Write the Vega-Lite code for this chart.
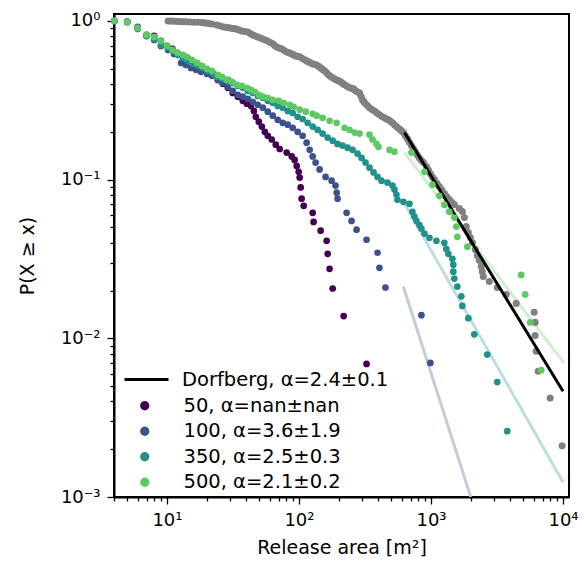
{
 "$schema": "https://vega.github.io/schema/vega-lite/v6.json",
 "width": 455, "height": 483,
 "autosize": {"type": "none"},
 "padding": {"left": 114, "top": 14, "right": 16, "bottom": 74},
 "background": "white",
 "config": {
  "font": "DejaVu Sans",
  "view": {"stroke": "black", "strokeWidth": 2},
  "axis": {"domainColor": "black", "domainWidth": 2, "tickColor": "black", "labelColor": "black", "titleColor": "black", "grid": false, "labelFontSize": 18, "titleFontSize": 19, "titleFontWeight": "normal", "labelOverlap": false, "labelFlush": false, "tickWidth": 1.3},
  "legend": {"labelFontSize": 19.5, "labelColor": "black", "padding": 0, "labelLimit": 400}
 },
 "datasets": {
  "gray": [
   {"x":10.2,"y":1.0},{"x":10.8,"y":0.997},{"x":11.5,"y":0.995},{"x":12.2,"y":0.993},{"x":13.0,"y":0.99},{"x":13.9,"y":0.988},{"x":14.9,"y":0.985},{"x":16.0,"y":0.982},{"x":17.2,"y":0.98},{"x":18.3,"y":0.976},{"x":19.4,"y":0.972},{"x":20.6,"y":0.965},{"x":21.9,"y":0.957},{"x":23.9,"y":0.944},{"x":25.4,"y":0.93},{"x":27.0,"y":0.917},{"x":28.4,"y":0.91},{"x":29.9,"y":0.904},{"x":31.5,"y":0.897},{"x":33.2,"y":0.891},{"x":35.0,"y":0.878},{"x":36.9,"y":0.865},{"x":38.8,"y":0.858},{"x":40.9,"y":0.852},{"x":42.8,"y":0.834},{"x":44.7,"y":0.816},{"x":46.7,"y":0.804},{"x":48.7,"y":0.793},{"x":50.9,"y":0.781},{"x":53.2,"y":0.77},{"x":55.5,"y":0.759},{"x":58.0,"y":0.748},{"x":60.6,"y":0.732},{"x":63.3,"y":0.717},{"x":65.5,"y":0.701},{"x":67.8,"y":0.686},{"x":70.8,"y":0.676},{"x":74.0,"y":0.667},{"x":77.3,"y":0.652},{"x":80.7,"y":0.638},{"x":84.3,"y":0.629},{"x":88.1,"y":0.62},{"x":91.2,"y":0.611},{"x":94.4,"y":0.602},{"x":97.7,"y":0.598},{"x":101.2,"y":0.594},{"x":105.7,"y":0.581},{"x":110.4,"y":0.569},{"x":114.3,"y":0.56},{"x":118.4,"y":0.552},{"x":122.6,"y":0.544},{"x":127.0,"y":0.536},{"x":131.5,"y":0.532},{"x":136.1,"y":0.528},{"x":140.9,"y":0.517},{"x":145.9,"y":0.506},{"x":151,"y":0.495},{"x":156.4,"y":0.485},{"x":162,"y":0.471},{"x":167.7,"y":0.457},{"x":173.6,"y":0.447},{"x":179.8,"y":0.438},{"x":186.2,"y":0.431},{"x":192.8,"y":0.425},{"x":199.6,"y":0.419},{"x":206.7,"y":0.413},{"x":214,"y":0.404},{"x":221.5,"y":0.396},{"x":231.3,"y":0.387},{"x":241.6,"y":0.379},{"x":250.2,"y":0.376},{"x":259.1,"y":0.373},{"x":266,"y":0.366},{"x":273.0,"y":0.359},{"x":287.6,"y":0.352},{"x":295.2,"y":0.335},{"x":303.0,"y":0.318},{"x":311,"y":0.309},{"x":319.3,"y":0.301},{"x":330.6,"y":0.292},{"x":342.2,"y":0.284},{"x":357.5,"y":0.277},{"x":373.4,"y":0.271},{"x":390,"y":0.263},{"x":407.4,"y":0.256},{"x":425.6,"y":0.25},{"x":444.5,"y":0.245},{"x":460,"y":0.241},{"x":476.4,"y":0.238},{"x":493,"y":0.233},{"x":510.8,"y":0.228},{"x":529,"y":0.222},{"x":547.5,"y":0.216},{"x":567,"y":0.211},{"x":587.0,"y":0.206},{"x":602,"y":0.202},{"x":618.4,"y":0.198},{"x":640,"y":0.189},{"x":663,"y":0.181},{"x":687,"y":0.172},{"x":711,"y":0.164},{"x":736,"y":0.157},{"x":762,"y":0.15},{"x":789,"y":0.143},{"x":817,"y":0.137},{"x":846,"y":0.132},{"x":876,"y":0.128},{"x":923,"y":0.121},{"x":956,"y":0.115},{"x":990,"y":0.109},{"x":1025,"y":0.104},{"x":1061,"y":0.1},{"x":1108,"y":0.095},{"x":1157,"y":0.0904},{"x":1209,"y":0.086},{"x":1263,"y":0.0817},{"x":1319,"y":0.078},{"x":1378,"y":0.0748},{"x":1439,"y":0.072},{"x":1503,"y":0.0696},{"x":1639,"y":0.0657},{"x":1728,"y":0.0629},{"x":1789,"y":0.0577},{"x":1851,"y":0.0506},{"x":1917,"y":0.0464},{"x":1985,"y":0.0432},{"x":2056,"y":0.0402},{"x":2166,"y":0.0363},{"x":2243,"y":0.0333},{"x":2322,"y":0.031},{"x":2404,"y":0.0284},{"x":2446,"y":0.0264},{"x":2489,"y":0.0245},{"x":2763,"y":0.0228},{"x":3176,"y":0.0209},{"x":3715,"y":0.0189},{"x":4422,"y":0.0166},{"x":6047,"y":0.0146},{"x":6153,"y":0.0126},{"x":6153,"y":0.0104},{"x":6262,"y":0.0083},{"x":6484,"y":0.0062},{"x":7990,"y":0.0042},{"x":9845,"y":0.0021}
  ],
  "fits": [
   {"f":"Dorfberg","x":630,"y":0.198},{"f":"Dorfberg","x":10000,"y":0.00464},
   {"f":"100","x":617,"y":0.0212},{"f":"100","x":2000,"y":0.001},
   {"f":"350","x":617,"y":0.0727},{"f":"350","x":10000,"y":0.00124},
   {"f":"500","x":630,"y":0.148},{"f":"500","x":10190,"y":0.00697}
  ],
  "pts": [
   {"s":"50","x":4,"y":1.0},{"s":"50","x":5,"y":0.986},{"s":"50","x":6,"y":0.904},{"s":"50","x":7,"y":0.816},{"s":"50","x":8,"y":0.805},{"s":"50","x":9,"y":0.748},{"s":"50","x":10,"y":0.696},{"s":"50","x":11,"y":0.667},{"s":"50","x":12,"y":0.629},{"s":"50","x":13.2,"y":0.602},{"s":"50","x":14.4,"y":0.577},{"s":"50","x":15.7,"y":0.552},{"s":"50","x":17.2,"y":0.528},{"s":"50","x":18.7,"y":0.506},{"s":"50","x":20.4,"y":0.485},{"s":"50","x":22.3,"y":0.464},{"s":"50","x":24.3,"y":0.425},{"s":"50","x":26.5,"y":0.402},{"s":"50","x":28.9,"y":0.379},{"s":"50","x":31.5,"y":0.352},{"s":"50","x":34.4,"y":0.333},{"s":"50","x":37.5,"y":0.314},{"s":"50","x":40.3,"y":0.301},{"s":"50","x":43.2,"y":0.292},{"s":"50","x":45.5,"y":0.271},{"s":"50","x":47.1,"y":0.249},{"s":"50","x":49.6,"y":0.232},{"s":"50","x":52.3,"y":0.216},{"s":"50","x":55.1,"y":0.2},{"s":"50","x":58.0,"y":0.189},{"s":"50","x":62.2,"y":0.179},{"s":"50","x":66.7,"y":0.166},{"s":"50","x":71.5,"y":0.156},{"s":"50","x":80.7,"y":0.148},{"s":"50","x":88.1,"y":0.14},{"s":"50","x":92.7,"y":0.133},{"s":"50","x":96.1,"y":0.122},{"s":"50","x":99.5,"y":0.112},{"s":"50","x":101.2,"y":0.103},{"s":"50","x":103,"y":0.0893},{"s":"50","x":104.7,"y":0.0758},{"s":"50","x":108.6,"y":0.0684},{"s":"50","x":127,"y":0.0618},{"s":"50","x":129,"y":0.0541},{"s":"50","x":145.9,"y":0.0477},{"s":"50","x":162,"y":0.0412},{"s":"50","x":165,"y":0.0341},{"s":"50","x":170.6,"y":0.0274},{"s":"50","x":180,"y":0.0206},{"s":"50","x":218,"y":0.0138},{"s":"50","x":325,"y":0.0069},
   {"s":"100","x":4,"y":1.0},{"s":"100","x":5,"y":0.986},{"s":"100","x":6,"y":0.917},{"s":"100","x":7,"y":0.805},{"s":"100","x":8,"y":0.759},{"s":"100","x":9,"y":0.696},{"s":"100","x":10.2,"y":0.657},{"s":"100","x":11.3,"y":0.62},{"s":"100","x":12.8,"y":0.544},{"s":"100","x":13.9,"y":0.528},{"s":"100","x":15.2,"y":0.506},{"s":"100","x":16.6,"y":0.492},{"s":"100","x":18.1,"y":0.478},{"s":"100","x":20.1,"y":0.464},{"s":"100","x":21.9,"y":0.451},{"s":"100","x":24.3,"y":0.425},{"s":"100","x":26.5,"y":0.407},{"s":"100","x":28.9,"y":0.385},{"s":"100","x":31.5,"y":0.363},{"s":"100","x":34.4,"y":0.342},{"s":"100","x":37.5,"y":0.333},{"s":"100","x":40.9,"y":0.323},{"s":"100","x":44.7,"y":0.309},{"s":"100","x":48.7,"y":0.296},{"s":"100","x":53.2,"y":0.284},{"s":"100","x":58.0,"y":0.268},{"s":"100","x":63.3,"y":0.253},{"s":"100","x":69.0,"y":0.238},{"s":"100","x":75.3,"y":0.228},{"s":"100","x":82.2,"y":0.222},{"s":"100","x":89.6,"y":0.212},{"s":"100","x":97.7,"y":0.2},{"s":"100","x":106.6,"y":0.189},{"s":"100","x":114.3,"y":0.171},{"s":"100","x":120.5,"y":0.154},{"s":"100","x":127,"y":0.14},{"s":"100","x":133.6,"y":0.128},{"s":"100","x":143.3,"y":0.116},{"s":"100","x":159,"y":0.104},{"s":"100","x":176.6,"y":0.0985},{"s":"100","x":189.2,"y":0.0918},{"s":"100","x":193,"y":0.0828},{"s":"100","x":196,"y":0.0758},{"s":"100","x":229.5,"y":0.0618},{"s":"100","x":250,"y":0.0549},{"s":"100","x":273,"y":0.0484},{"s":"100","x":325,"y":0.0418},{"s":"100","x":393.5,"y":0.0346},{"s":"100","x":407,"y":0.0278},{"s":"100","x":452,"y":0.0209},{"s":"100","x":846,"y":0.014},{"s":"100","x":989,"y":0.007},
   {"s":"350","x":4,"y":1.0},{"s":"350","x":5,"y":0.99},{"s":"350","x":6,"y":0.89},{"s":"350","x":7,"y":0.805},{"s":"350","x":8,"y":0.77},{"s":"350","x":9,"y":0.706},{"s":"350","x":10.2,"y":0.676},{"s":"350","x":11.1,"y":0.647},{"s":"350","x":12.1,"y":0.611},{"s":"350","x":13.2,"y":0.585},{"s":"350","x":14.4,"y":0.56},{"s":"350","x":15.7,"y":0.537},{"s":"350","x":17.2,"y":0.521},{"s":"350","x":18.7,"y":0.506},{"s":"350","x":20.4,"y":0.485},{"s":"350","x":22.3,"y":0.464},{"s":"350","x":24.3,"y":0.444},{"s":"350","x":26.5,"y":0.432},{"s":"350","x":28.9,"y":0.425},{"s":"350","x":31.5,"y":0.407},{"s":"350","x":34.4,"y":0.39},{"s":"350","x":37.5,"y":0.379},{"s":"350","x":40.9,"y":0.362},{"s":"350","x":44.7,"y":0.352},{"s":"350","x":48.7,"y":0.337},{"s":"350","x":53.2,"y":0.328},{"s":"350","x":58.0,"y":0.314},{"s":"350","x":63.3,"y":0.305},{"s":"350","x":69.0,"y":0.291},{"s":"350","x":75.3,"y":0.284},{"s":"350","x":82.2,"y":0.271},{"s":"350","x":89.6,"y":0.263},{"s":"350","x":97.7,"y":0.249},{"s":"350","x":106.6,"y":0.241},{"s":"350","x":116.3,"y":0.228},{"s":"350","x":127,"y":0.216},{"s":"350","x":138.5,"y":0.206},{"s":"350","x":151,"y":0.195},{"s":"350","x":164.8,"y":0.184},{"s":"350","x":180,"y":0.176},{"s":"350","x":196,"y":0.168},{"s":"350","x":214,"y":0.164},{"s":"350","x":233.4,"y":0.159},{"s":"350","x":254.6,"y":0.154},{"s":"350","x":277.7,"y":0.146},{"s":"350","x":298,"y":0.137},{"s":"350","x":319.3,"y":0.128},{"s":"350","x":342.2,"y":0.119},{"s":"350","x":367.2,"y":0.111},{"s":"350","x":393.5,"y":0.104},{"s":"350","x":421.7,"y":0.0985},{"s":"350","x":468,"y":0.0958},{"s":"350","x":510.8,"y":0.0918},{"s":"350","x":528.6,"y":0.0866},{"s":"350","x":547,"y":0.0805},{"s":"350","x":557,"y":0.0747},{"s":"350","x":618.4,"y":0.0725},{"s":"350","x":687,"y":0.0704},{"s":"350","x":723,"y":0.0627},{"s":"350","x":749,"y":0.0585},{"s":"350","x":776,"y":0.0549},{"s":"350","x":817,"y":0.0517},{"s":"350","x":846,"y":0.0492},{"s":"350","x":892,"y":0.0457},{"s":"350","x":973,"y":0.043},{"s":"350","x":1099,"y":0.0412},{"s":"350","x":1262,"y":0.04},{"s":"350","x":1306,"y":0.0366},{"s":"350","x":1353,"y":0.0341},{"s":"350","x":1451,"y":0.0317},{"s":"350","x":1476,"y":0.0291},{"s":"350","x":1476,"y":0.0263},{"s":"350","x":1502,"y":0.0238},{"s":"350","x":1583,"y":0.0212},{"s":"350","x":1697,"y":0.0184},{"s":"350","x":1727,"y":0.016},{"s":"350","x":1918,"y":0.0134},{"s":"350","x":2129,"y":0.0106},{"s":"350","x":2667,"y":0.0079},{"s":"350","x":3176,"y":0.0053},{"s":"350","x":3779,"y":0.0026},
   {"s":"500","x":4,"y":1.0},{"s":"500","x":5,"y":0.986},{"s":"500","x":6,"y":0.904},{"s":"500","x":7,"y":0.816},{"s":"500","x":8,"y":0.793},{"s":"500","x":9,"y":0.748},{"s":"500","x":10,"y":0.696},{"s":"500","x":11,"y":0.657},{"s":"500","x":12,"y":0.629},{"s":"500","x":13.2,"y":0.611},{"s":"500","x":14.2,"y":0.594},{"s":"500","x":15.5,"y":0.569},{"s":"500","x":16.9,"y":0.544},{"s":"500","x":18.4,"y":0.521},{"s":"500","x":20.1,"y":0.499},{"s":"500","x":21.9,"y":0.485},{"s":"500","x":24.3,"y":0.457},{"s":"500","x":26.1,"y":0.444},{"s":"500","x":28.4,"y":0.425},{"s":"500","x":31.0,"y":0.413},{"s":"500","x":33.8,"y":0.396},{"s":"500","x":36.9,"y":0.39},{"s":"500","x":40.3,"y":0.379},{"s":"500","x":43.2,"y":0.368},{"s":"500","x":46.2,"y":0.358},{"s":"500","x":49.6,"y":0.342},{"s":"500","x":53.2,"y":0.333},{"s":"500","x":58.0,"y":0.328},{"s":"500","x":63.3,"y":0.318},{"s":"500","x":70.3,"y":0.314},{"s":"500","x":76.6,"y":0.305},{"s":"500","x":85.1,"y":0.296},{"s":"500","x":91.2,"y":0.288},{"s":"500","x":101.2,"y":0.276},{"s":"500","x":112.4,"y":0.268},{"s":"500","x":127,"y":0.26},{"s":"500","x":136.1,"y":0.253},{"s":"500","x":151,"y":0.245},{"s":"500","x":170.6,"y":0.235},{"s":"500","x":192.8,"y":0.228},{"s":"500","x":221.5,"y":0.212},{"s":"500","x":241.6,"y":0.206},{"s":"500","x":263.6,"y":0.198},{"s":"500","x":287.6,"y":0.195},{"s":"500","x":342.2,"y":0.192},{"s":"500","x":360.6,"y":0.179},{"s":"500","x":386.4,"y":0.168},{"s":"500","x":400,"y":0.161},{"s":"500","x":485,"y":0.154},{"s":"500","x":528.6,"y":0.15},{"s":"500","x":711,"y":0.148},{"s":"500","x":892,"y":0.112},{"s":"500","x":1026,"y":0.093},{"s":"500","x":1157,"y":0.079},{"s":"500","x":1262,"y":0.0694},{"s":"500","x":1377,"y":0.0627},{"s":"500","x":1502,"y":0.0577},{"s":"500","x":1556,"y":0.0506},{"s":"500","x":1583,"y":0.0436},{"s":"500","x":1885,"y":0.0378},{"s":"500","x":4825,"y":0.0251},{"s":"500","x":5171,"y":0.0189},{"s":"500","x":5641,"y":0.0126},{"s":"500","x":6830,"y":0.0063}
  ]
 },
 "encoding": {
  "x": {"field": "x", "type": "quantitative",
   "scale": {"type": "log", "domain": [3.97, 11100], "nice": false},
   "axis": {"title": "Release area [m²]", "titlePadding": 9, "labelPadding": 7,
    "values": [4,5,6,7,8,9,10,20,30,40,50,60,70,80,90,100,200,300,400,500,600,700,800,900,1000,2000,3000,4000,5000,6000,7000,8000,9000,10000],
    "labelExpr": "datum.value == 10 ? '10¹' : datum.value == 100 ? '10²' : datum.value == 1000 ? '10³' : datum.value == 10000 ? '10⁴' : ''",
    "tickSize": {"condition": {"test": "indexof([10,100,1000,10000], datum.value) >= 0", "value": 7}, "value": 4}}},
  "y": {"field": "y", "type": "quantitative",
   "scale": {"type": "log", "domain": [0.001, 1.106], "nice": false},
   "axis": {"title": "P(X ≥ x)", "titlePadding": 23, "labelPadding": 7,
    "values": [0.001,0.002,0.003,0.004,0.005,0.006,0.007,0.008,0.009,0.01,0.02,0.03,0.04,0.05,0.06,0.07,0.08,0.09,0.1,0.2,0.3,0.4,0.5,0.6,0.7,0.8,0.9,1],
    "labelExpr": "datum.value == 1 ? '10⁰' : datum.value == 0.1 ? '10⁻¹' : datum.value == 0.01 ? '10⁻²' : datum.value == 0.001 ? '10⁻³' : ''",
    "tickSize": {"condition": {"test": "indexof([0.001,0.01,0.1,1], datum.value) >= 0", "value": 7}, "value": 4}}}
 },
 "layer": [
  {"data": {"name": "fits"}, "transform": [{"filter": "datum.f != 'Dorfberg'"}],
   "mark": {"type": "line", "strokeWidth": 3, "clip": true},
   "encoding": {"stroke": {"field": "f", "type": "nominal"}}},
  {"data": {"name": "gray"}, "mark": {"type": "point", "filled": true, "size": 50, "color": "#808080", "opacity": 1}},
  {"data": {"name": "fits"}, "transform": [{"filter": "datum.f == 'Dorfberg'"}],
   "mark": {"type": "line", "strokeWidth": 3, "clip": true},
   "encoding": {"stroke": {"field": "f", "type": "nominal",
     "scale": {"domain": ["Dorfberg", "100", "350", "500"], "range": ["black", "#c4cbdc", "#bcdedc", "#cfefd0"]},
     "legend": {"values": ["Dorfberg"], "labelExpr": "'Dorfberg, α=2.4±0.1'", "orient": "none", "legendX": 9, "legendY": 342, "symbolType": "stroke", "symbolSize": 1936, "symbolStrokeWidth": 3, "symbolOpacity": 1, "symbolStrokeColor": "black", "labelOffset": 12, "title": null}}}},
  {"data": {"name": "pts"}, "mark": {"type": "point", "filled": true, "size": 45, "opacity": 1},
   "encoding": {"color": {"field": "s", "type": "nominal",
     "scale": {"domain": ["50", "100", "350", "500"], "range": ["#440154", "#3b528b", "#21918c", "#5ec962"]},
     "legend": {"labelExpr": "datum.label == '50' ? '50, α=nan±nan' : datum.label == '100' ? '100, α=3.6±1.9' : datum.label == '350' ? '350, α=2.5±0.3' : '500, α=2.1±0.2'", "orient": "none", "legendX": 21, "legendY": 382, "symbolType": "circle", "symbolSize": 86, "symbolOpacity": 1, "labelOffset": 29, "rowPadding": 4.5, "title": null}}}}
 ]
}
